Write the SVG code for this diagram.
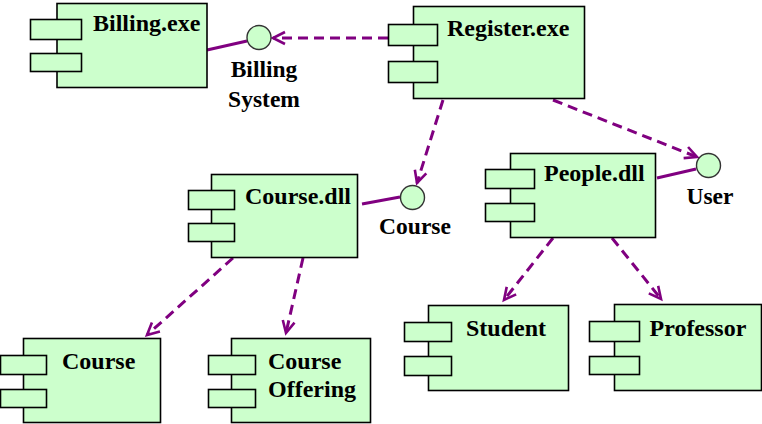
<svg xmlns="http://www.w3.org/2000/svg" width="762" height="424" viewBox="0 0 762 424">
<style>
.box{fill:#ccffcc;stroke:#000;stroke-width:1.6}
.ifc{fill:#ccffcc;stroke:#333;stroke-width:1.4}
.t{font-family:"Liberation Serif","Times New Roman",serif;font-weight:bold;font-size:24px;fill:#000}
.lbl{font-family:"Liberation Serif","Times New Roman",serif;font-weight:bold;font-size:23.5px;fill:#000;text-anchor:middle}
.dep{stroke:#800080;stroke-width:3;fill:none;stroke-dasharray:10,6;marker-end:url(#arr)}
.sol{stroke:#800080;stroke-width:3;fill:none}
</style>
<defs>
<marker id="arr" markerUnits="userSpaceOnUse" markerWidth="16" markerHeight="16" refX="13" refY="7" orient="auto" viewBox="0 0 16 14">
<path d="M1,1 L13,7 L1,13" fill="none" stroke="#800080" stroke-width="2.6"/>
</marker>
</defs>
<g id="connectors">
<line class="sol" x1="207" y1="50" x2="247" y2="41"/>
<line class="sol" x1="657" y1="178" x2="696" y2="169"/>
<line class="sol" x1="362" y1="204" x2="400" y2="197"/>
<line class="dep" x1="388" y1="38" x2="273" y2="38"/>
<line class="dep" x1="443" y1="100" x2="417" y2="183"/>
<line class="dep" x1="553" y1="100" x2="697" y2="157"/>
<line class="dep" x1="233" y1="258" x2="147" y2="335"/>
<line class="dep" x1="303" y1="258" x2="286" y2="333"/>
<line class="dep" x1="553" y1="238" x2="504" y2="300"/>
<line class="dep" x1="612" y1="238" x2="661" y2="299"/>
</g>
<g id="billing-exe">
<rect class="box" x="57" y="3.5" width="150" height="84"/>
<rect class="box" x="30.5" y="19.5" width="51" height="20"/>
<rect class="box" x="30.5" y="53.5" width="51" height="18"/>
<text class="t" x="93" y="31">Billing.exe</text>
</g>
<g id="billing-system">
<circle class="ifc" cx="259" cy="37.5" r="12"/>
<text class="lbl" x="264" y="77">Billing</text>
<text class="lbl" x="264" y="107">System</text>
</g>
<g id="register-exe">
<rect class="box" x="413.5" y="6.5" width="171" height="92"/>
<rect class="box" x="388.5" y="24.5" width="49" height="21"/>
<rect class="box" x="388.5" y="61.5" width="49" height="21"/>
<text class="t" x="447" y="36">Register.exe</text>
</g>
<g id="user">
<circle class="ifc" cx="708.5" cy="165.5" r="12"/>
<text class="lbl" x="710" y="204">User</text>
</g>
<g id="people-dll">
<rect class="box" x="510.5" y="153.5" width="145" height="84"/>
<rect class="box" x="485.5" y="169.5" width="49" height="19"/>
<rect class="box" x="485.5" y="203.5" width="49" height="18"/>
<text class="t" x="544" y="180.5">People.dll</text>
</g>
<g id="course-ifc">
<circle class="ifc" cx="412.5" cy="197.5" r="12"/>
<text class="lbl" x="415" y="233.5">Course</text>
</g>
<g id="course-dll">
<rect class="box" x="211.5" y="174.5" width="146" height="83"/>
<rect class="box" x="188.5" y="190.5" width="46" height="19"/>
<rect class="box" x="188.5" y="223.5" width="46" height="18"/>
<text class="t" x="245" y="204">Course.dll</text>
</g>
<g id="course">
<rect class="box" x="23.5" y="338.5" width="137" height="84"/>
<rect class="box" x="0.5" y="355.5" width="46" height="19"/>
<rect class="box" x="0.5" y="389.5" width="46" height="18"/>
<text class="t" x="62" y="368.5">Course</text>
</g>
<g id="course-offering">
<rect class="box" x="231.5" y="338.5" width="139" height="84"/>
<rect class="box" x="208.5" y="355.5" width="47" height="19"/>
<rect class="box" x="208.5" y="389.5" width="47" height="18"/>
<text class="t" x="268" y="368.5">Course</text>
<text class="t" x="268" y="397">Offering</text>
</g>
<g id="student">
<rect class="box" x="428.5" y="305.5" width="140" height="85"/>
<rect class="box" x="404.5" y="322.5" width="47" height="19"/>
<rect class="box" x="404.5" y="356.5" width="47" height="19"/>
<text class="t" x="466" y="336">Student</text>
</g>
<g id="professor">
<rect class="box" x="614.5" y="304.5" width="147" height="86"/>
<rect class="box" x="589.5" y="321.5" width="50" height="20"/>
<rect class="box" x="589.5" y="356.5" width="50" height="18"/>
<text class="t" x="649.5" y="336">Professor</text>
</g>
</svg>
